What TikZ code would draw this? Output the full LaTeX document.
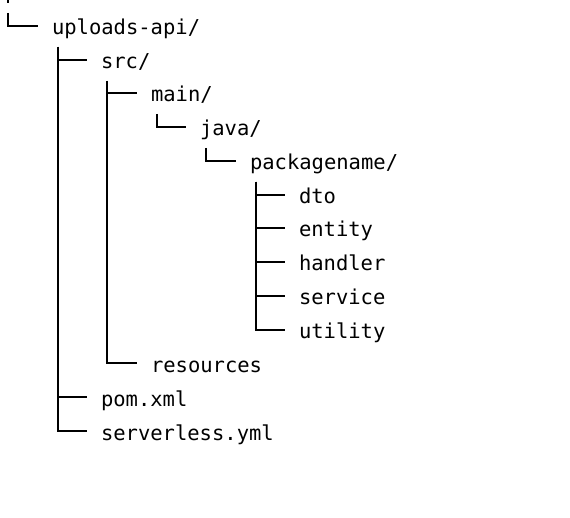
\documentclass[tikz,border=0pt]{standalone}
\usepackage{fontspec}
\setmonofont{DejaVu Sans Mono}

\begin{document}
\begin{tikzpicture}[x=1pt,y=-1pt,line width=2pt,
    dir node/.style={anchor=base west,inner sep=0pt,outer sep=0pt,
      text height=30pt,text depth=12pt,
      font=\ttfamily\fontsize{20.5}{24}\selectfont},
    tree line/.style={draw,shorten >=14pt}]
\useasboundingbox (0,0) rectangle (570,518);

\coordinate (cut) at (8,0);
\coordinate (cutend) at (8,3);
\coordinate (up) at (8,13);

\node[dir node] (api) at (52,35) {uploads-api/};
\node[dir node] (src) at (101,69) {src/};
\node[dir node] (main) at (151,102) {main/};
\node[dir node] (java) at (200,136) {java/};
\node[dir node] (pkg) at (250,170) {packagename/};
\node[dir node] (dto) at (299,204) {dto};
\node[dir node] (entity) at (299,237) {entity};
\node[dir node] (handler) at (299,271) {handler};
\node[dir node] (service) at (299,305) {service};
\node[dir node] (utility) at (299,339) {utility};
\node[dir node] (res) at (151,372) {resources};
\node[dir node] (pom) at (101,406) {pom.xml};
\node[dir node] (sls) at (101,440) {serverless.yml};

\draw (cut) -- (cutend);
\draw[tree line] (up) |- (api.west);

\draw[tree line] ([xshift=6pt]api.south west) |- (src.west);
\draw[tree line] ([xshift=6pt]api.south west) |- (pom.west);
\draw[tree line] ([xshift=6pt]api.south west) |- (sls.west);

\draw[tree line] ([xshift=6pt]src.south west) |- (main.west);
\draw[tree line] ([xshift=6pt]src.south west) |- (res.west);

\draw[tree line] ([xshift=6pt]main.south west) |- (java.west);
\draw[tree line] ([xshift=6pt]java.south west) |- (pkg.west);

\draw[tree line] ([xshift=6pt]pkg.south west) |- (dto.west);
\draw[tree line] ([xshift=6pt]pkg.south west) |- (entity.west);
\draw[tree line] ([xshift=6pt]pkg.south west) |- (handler.west);
\draw[tree line] ([xshift=6pt]pkg.south west) |- (service.west);
\draw[tree line] ([xshift=6pt]pkg.south west) |- (utility.west);

\end{tikzpicture}
\end{document}
